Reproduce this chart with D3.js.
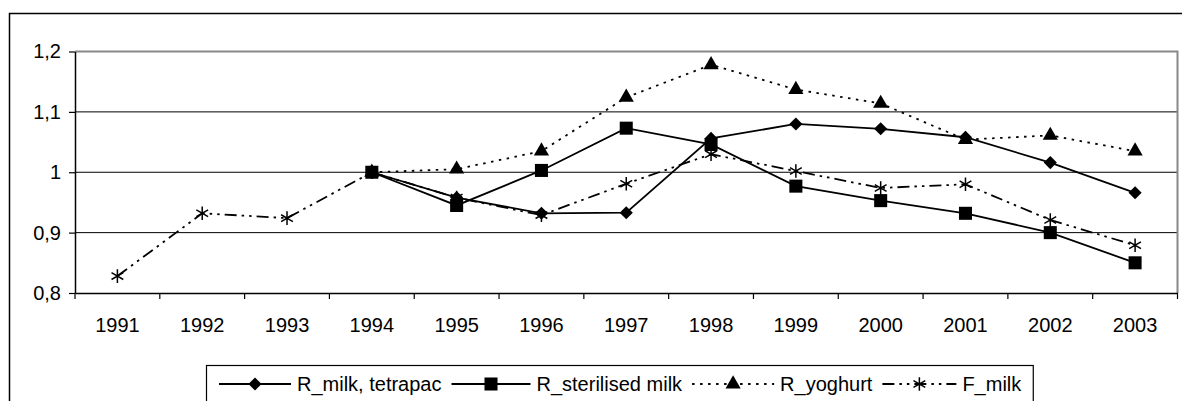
<!DOCTYPE html>
<html><head><meta charset="utf-8">
<script src="https://cdn.jsdelivr.net/npm/d3@7"></script>
<style>
html,body{margin:0;padding:0;background:#fff;}
svg{display:block;font-family:"Liberation Sans",Arial,sans-serif;}
</style></head>
<body>
<svg id="chart" width="1182" height="401"></svg>
<script>
const years = ["1991","1992","1993","1994","1995","1996","1997","1998","1999","2000","2001","2002","2003"];
const yTickValues = [0.8, 0.9, 1.0, 1.1, 1.2];
const yTickLabels = ["0,8", "0,9", "1", "1,1", "1,2"];
const seriesNames = ["R_milk, tetrapac", "R_sterilised milk", "R_yoghurt", "F_milk"];
const milkTetrapac = [null, null, null, 1.000, 0.958, 0.932, 0.933, 1.056, 1.080, 1.072, 1.058, 1.016, 0.966];
const sterilisedMilk = [null, null, null, 1.000, 0.945, 1.003, 1.073, 1.046, 0.977, 0.953, 0.932, 0.900, 0.850];
const yoghurt = [null, null, null, 1.000, 1.005, 1.035, 1.124, 1.178, 1.137, 1.114, 1.054, 1.061, 1.035];
const fMilk = [0.828, 0.932, 0.924, 1.000, 0.958, 0.929, 0.981, 1.030, 1.002, 0.974, 0.980, 0.921, 0.879];

const seriesValues = [milkTetrapac, sterilisedMilk, yoghurt, fMilk];
const markerTypes = [d3.symbolDiamond2, d3.symbolSquare, d3.symbolTriangle, d3.symbolAsterisk];
const markerSizes = [110, 170, 100, 130];
const dashes = [null, null, "2.5,5.5", "12,5,2.5,5,2.5,5"];
const FS = 20;

const svg = d3.select("#chart");
const L = 75, R = 1177.5, T = 51.5, B = 293;
const x = d3.scaleBand().domain(years).range([L, R]).paddingInner(0).paddingOuter(0);
const y = d3.scaleLinear().domain([0.8, 1.2]).range([B, T]);
const cx = d => x(d) + x.bandwidth() / 2;

// outer chart frame
svg.append("path").attr("d", `M9.5,403 V13.5 H1190`).attr("fill", "none").attr("stroke", "#000").attr("stroke-width", 1.5);

// gridlines
svg.append("g").selectAll("line").data(yTickValues.filter(v => v > 0.8 && v < 1.2)).join("line")
  .attr("x1", L).attr("x2", R).attr("y1", d => y(d)).attr("y2", d => y(d))
  .attr("stroke", "#000").attr("stroke-width", 1);

// plot area border (top/right)
svg.append("path").attr("d", `M${L},${T} H${R} V${B}`).attr("fill", "none").attr("stroke", "#888").attr("stroke-width", 2);

// y axis
const yAxis = d3.axisLeft(y).tickValues(yTickValues)
  .tickFormat((d, i) => yTickLabels[i]).tickSize(6).tickSizeOuter(0).tickPadding(8);
const gy = svg.append("g").attr("transform", `translate(${L},0)`).call(yAxis);
gy.select(".domain").attr("stroke-width", 1.5);
gy.selectAll(".tick line").attr("stroke-width", 1.2);
gy.selectAll("text").attr("font-size", FS).attr("fill", "#000").attr("font-family", "Liberation Sans, Arial, sans-serif");

// x axis (labels at category centers, ticks at boundaries)
const xAxis = d3.axisBottom(x).tickSize(0).tickSizeOuter(0).tickPadding(25);
const gx = svg.append("g").attr("transform", `translate(0,${B})`).call(xAxis);
gx.select(".domain").attr("stroke-width", 1.5);
gx.selectAll("text").attr("font-size", FS).attr("fill", "#000").attr("font-family", "Liberation Sans, Arial, sans-serif");
const boundaries = years.map(d => x(d)).concat([R]);
svg.append("g").selectAll("line").data(boundaries).join("line")
  .attr("x1", d => d).attr("x2", d => d).attr("y1", B).attr("y2", B + 6)
  .attr("stroke", "#000").attr("stroke-width", 1.2);

// series lines and markers
const line = d3.line().defined(d => d.v != null).x(d => cx(d.year)).y(d => y(d.v));
seriesValues.forEach((vals, si) => {
  const pts = years.map((yr, i) => ({year: yr, v: vals[i]}));
  svg.append("path").datum(pts).attr("d", line).attr("fill", "none")
    .attr("stroke", "#000").attr("stroke-width", 1.8)
    .attr("stroke-dasharray", dashes[si]);
});
seriesValues.forEach((vals, si) => {
  const pts = years.map((yr, i) => ({year: yr, v: vals[i]})).filter(d => d.v != null);
  const sym = d3.symbol().type(markerTypes[si]).size(markerSizes[si]);
  const isStroke = markerTypes[si] === d3.symbolAsterisk;
  svg.append("g").selectAll("path").data(pts).join("path")
    .attr("transform", d => `translate(${cx(d.year)},${y(d.v)})`)
    .attr("d", sym)
    .attr("fill", isStroke ? "none" : "#000")
    .attr("stroke", "#000").attr("stroke-width", isStroke ? 1.5 : 0);
});

// legend
const legY = 384;
const lg = svg.append("g");
const legRect = lg.append("rect").attr("x", 206.5).attr("y", 365.5).attr("height", 38)
  .attr("fill", "#fff").attr("stroke", "#000").attr("stroke-width", 1.2);
let lx = 219;
const lineLens = [72, 79, 82, 74];
let lastEnd = lx;
seriesNames.forEach((name, si) => {
  const len = lineLens[si];
  lg.append("line").attr("x1", lx).attr("x2", lx + len).attr("y1", legY).attr("y2", legY)
    .attr("stroke", "#000").attr("stroke-width", 1.8).attr("stroke-dasharray", dashes[si]);
  const isStroke = markerTypes[si] === d3.symbolAsterisk;
  lg.append("path").attr("transform", `translate(${lx + len / 2},${legY})`)
    .attr("d", d3.symbol().type(markerTypes[si]).size(markerSizes[si]))
    .attr("fill", isStroke ? "none" : "#000").attr("stroke", "#000").attr("stroke-width", isStroke ? 1.5 : 0);
  const t = lg.append("text").attr("x", lx + len + 6).attr("y", legY + 7)
    .attr("font-size", FS).attr("fill", "#000").text(name);
  lastEnd = lx + len + 6 + t.node().getComputedTextLength();
  lx = lastEnd + 10;
});
legRect.attr("width", lastEnd + 12 - 206.5);
</script>
</body></html>
